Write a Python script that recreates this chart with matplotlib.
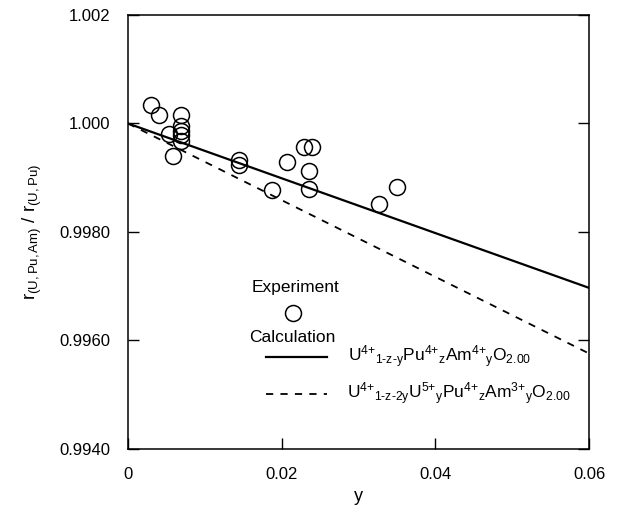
import numpy as np
import matplotlib
matplotlib.use("Agg")
import matplotlib.pyplot as plt
from matplotlib.ticker import FixedLocator, FixedFormatter

plt.rcParams['font.family'] = ['Liberation Sans', 'DejaVu Sans']
plt.rcParams['mathtext.fontset'] = 'custom'
plt.rcParams['mathtext.rm'] = 'Liberation Sans'
plt.rcParams['mathtext.it'] = 'Liberation Sans:italic'

# experiment points (y, r ratio)
exp_y = [0.0030, 0.0040, 0.0053, 0.0059, 0.0069, 0.0069, 0.0069, 0.0069, 0.0069,
         0.0145, 0.0145, 0.0188, 0.0207, 0.0229, 0.0240, 0.0236, 0.0236,
         0.0327, 0.0350]
exp_r = [1.00034, 1.00016, 0.99981, 0.99940, 1.00015, 0.99995, 0.99986, 0.99978, 0.99968,
         0.99933, 0.99924, 0.99878, 0.99929, 0.99957, 0.99957, 0.99912, 0.99879,
         0.99852, 0.99883]

# calculation lines
calc_y = [0.0, 0.06]
calc_u4 = [1.0000, 0.99697]
calc_u5 = [1.0000, 0.99576]

xticks = [0, 0.02, 0.04, 0.06]
xlabels = ['0', '0.02', '0.04', '0.06']
yticks = [0.994, 0.996, 0.998, 1.000, 1.002]
ylabels = ['0.9940', '0.9960', '0.9980', '1.000', '1.002']

fig = plt.figure(figsize=(6.18, 5.13), dpi=100)
ax = fig.add_axes([0.2071, 0.1248, 0.7460, 0.8460])

ax.plot(calc_y, calc_u4, color='black', lw=1.6)
ax.plot(calc_y, calc_u5, color='black', lw=1.3, dashes=(4, 4))
ax.plot(exp_y, exp_r, 'o', mfc='none', mec='black', mew=1.1, ms=11.5, clip_on=False)

ax.set_xlim(0, 0.06)
ax.set_ylim(0.994, 1.002)
ax.xaxis.set_major_locator(FixedLocator(xticks))
ax.xaxis.set_major_formatter(FixedFormatter(xlabels))
ax.yaxis.set_major_locator(FixedLocator(yticks))
ax.yaxis.set_major_formatter(FixedFormatter(ylabels))
ax.tick_params(direction='in', length=8, width=1, labelsize=12, pad=13, right=True, top=False)
for s in ax.spines.values():
    s.set_linewidth(1.1)

ax.set_xlabel('y', fontsize=13, labelpad=4)
ax.set_ylabel(r'r$_{\mathregular{(U,Pu,Am)}}$ / r$_{\mathregular{(U,Pu)}}$', fontsize=13.5, labelpad=11)

##### legend drawn by hand
ax.text(0.364, 0.373, 'Experiment', transform=ax.transAxes, ha='center', va='center', fontsize=12.5)
ax.plot([0.358], [0.313], 'o', mfc='none', mec='black', mew=1.1, ms=11.5, transform=ax.transAxes)
ax.text(0.356, 0.258, 'Calculation', transform=ax.transAxes, ha='center', va='center', fontsize=12.5)

ax.plot([0.299, 0.432], [0.212, 0.212], color='black', lw=1.6, transform=ax.transAxes)
ax.plot([0.299, 0.432], [0.127, 0.127], color='black', lw=1.3, dashes=(4, 4), transform=ax.transAxes)
lab1 = (r'$\mathregular{U^{\text{4+}}{}_{\text{1-z-y}}Pu^{\text{4+}}{}_{z}'
        r'Am^{\text{4+}}{}_{y}O_{2.00}}$')
lab2 = (r'$\mathregular{U^{\text{4+}}{}_{\text{1-z-2y}}U^{\text{5+}}{}_{y}Pu^{\text{4+}}{}_{z}'
        r'Am^{\text{3+}}{}_{y}O_{2.00}}$')
ax.text(0.477, 0.212, lab1, transform=ax.transAxes, ha='left', va='center', fontsize=12.5)
ax.text(0.475, 0.127, lab2, transform=ax.transAxes, ha='left', va='center', fontsize=12.5)

plt.savefig('out.png', dpi=100)
